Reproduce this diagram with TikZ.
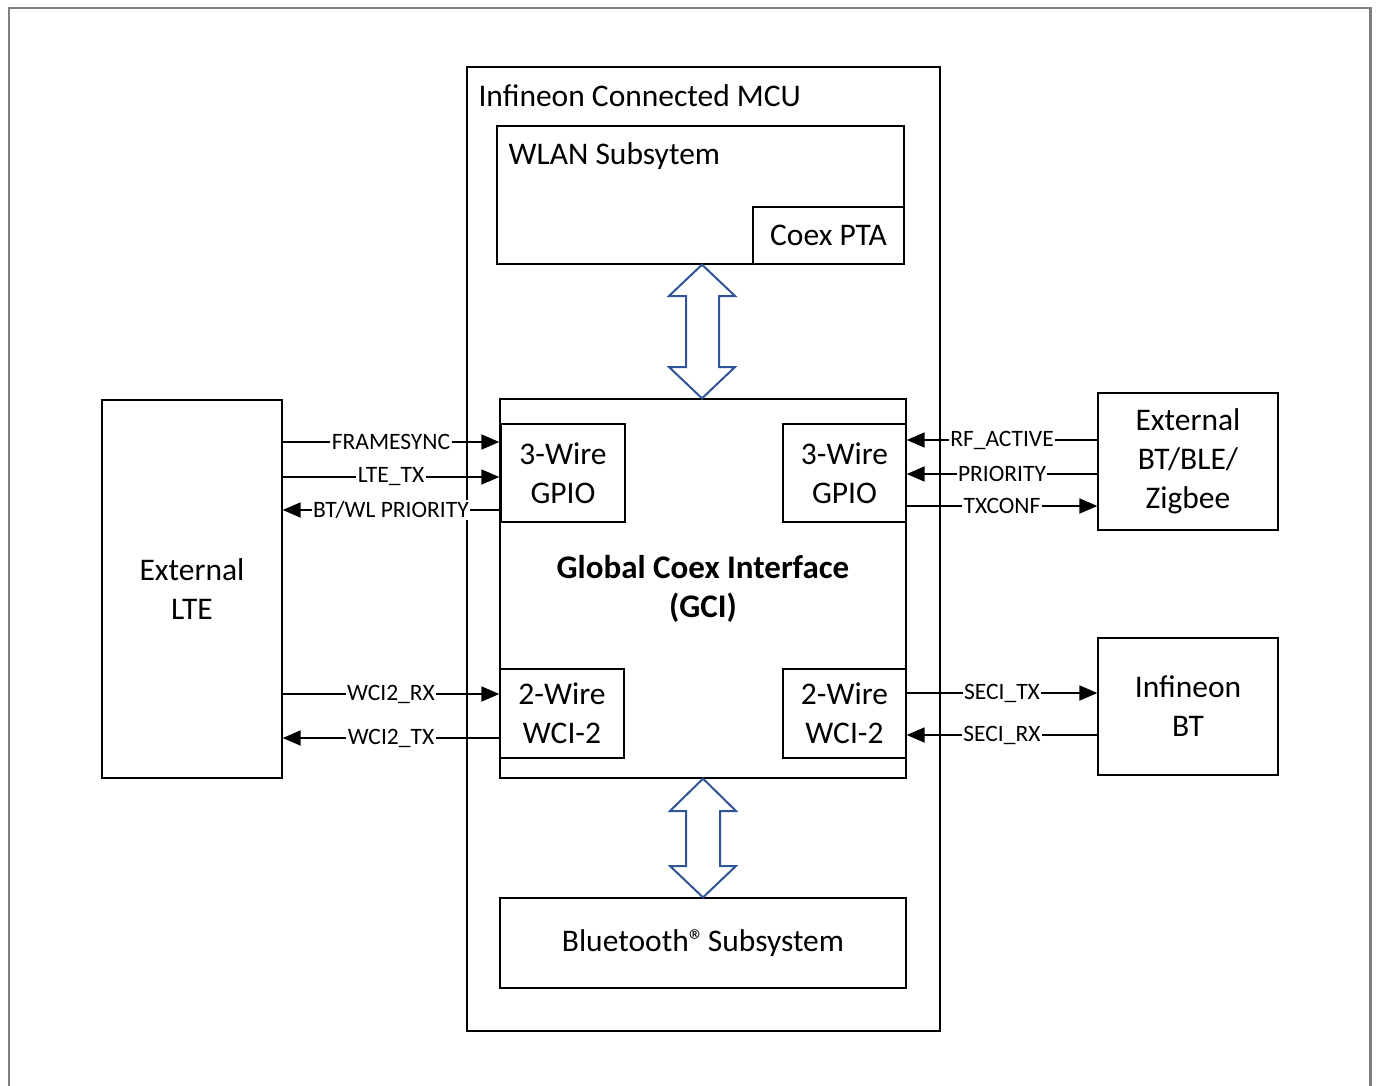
\documentclass[tikz,border=0pt]{standalone}
\usepackage{fontspec}
\setmainfont{Carlito}
\usetikzlibrary{arrows.meta}
\definecolor{arrowblue}{HTML}{2F5597}
\definecolor{framegray}{HTML}{7F7F7F}
\begin{document}
\begin{tikzpicture}[x=1pt,y=-1pt,
  box/.style={draw=black,line width=1.3pt,inner sep=0pt,align=center,font=\fontsize{31.5}{39}\selectfont},
  sig/.style={line width=1.8pt,-{Triangle[length=18pt,width=15pt]}},
  lbl/.style={fill=white,inner sep=1.5pt,font=\fontsize{23.5}{26}\selectfont},
  bigarrow/.style={draw=arrowblue,line width=2pt,line join=miter}]
\useasboundingbox (0,0) rectangle (1378,1086);
\draw [framegray,line width=2.5pt] (9,1086) -- (9,8) -- (1370.5,8) -- (1370.5,1086);
\node [box,minimum width=473pt,minimum height=964pt] (mcu) at (703.5,549) {};
\node [anchor=west,font=\fontsize{31.5}{36}\selectfont] (mcutitle) at (475,96) {Infineon Connected MCU};
\node [box,minimum width=407pt,minimum height=138pt] (wlan) at (700.5,195) {};
\node [anchor=west,font=\fontsize{31.5}{36}\selectfont] (wlantitle) at (505,156) {WLAN Subsytem};
\node [box,minimum width=151pt,minimum height=57pt] (pta) at (828.5,235.5) {Coex PTA};
\node [box,minimum width=406pt,minimum height=379pt] (gci) at (703,588.5) {};
\node [align=center,font=\bfseries\fontsize{33}{39}\selectfont] (gcitext) at (703,589) {Global Coex Interface\\(GCI)};
\node [box,minimum width=124pt,minimum height=98pt] (gpiol) at (563,473) {3-Wire\\GPIO};
\node [box,minimum width=123pt,minimum height=98pt] (gpior) at (844.5,473) {3-Wire\\GPIO};
\node [box,minimum width=124pt,minimum height=89pt] (wcil) at (562,713.5) {2-Wire\\WCI-2};
\node [box,minimum width=123pt,minimum height=89pt] (wcir) at (844.5,713.5) {2-Wire\\WCI-2};
\node [box,minimum width=406pt,minimum height=90pt] (btsub) at (703,943) {Bluetooth®\kern-4pt{} Subsystem};
\node [box,minimum width=180pt,minimum height=378pt] (lte) at (192,589) {External\\LTE};
\node [box,minimum width=180pt,minimum height=137pt] (extbt) at (1188,461.5) {External\\BT/BLE/\\Zigbee};
\node [box,minimum width=180pt,minimum height=137pt] (ifxbt) at (1188,706.5) {Infineon\\BT};
\draw [sig] (lte.east|-0,442) -- node [lbl] {FRAMESYNC} (gci.west|-0,442);
\draw [sig] (lte.east|-0,477) -- node [lbl] {LTE\_TX} (gci.west|-0,477);
\draw [sig] (gci.west|-0,510) -- node [lbl] {BT/WL PRIORITY} (lte.east|-0,510);
\draw [sig] (lte.east|-0,694) -- node [lbl] {WCI2\_RX} (gci.west|-0,694);
\draw [sig] (gci.west|-0,738) -- node [lbl] {WCI2\_TX} (lte.east|-0,738);
\draw [sig] (extbt.west|-0,440) -- node [lbl] {RF\_ACTIVE} (gci.east|-0,440);
\draw [sig] (extbt.west|-0,474) -- node [lbl] {PRIORITY} (gci.east|-0,474);
\draw [sig] (gci.east|-0,506) -- node [lbl] {TXCONF} (extbt.west|-0,506);
\draw [sig] (gci.east|-0,693) -- node [lbl] {SECI\_TX} (ifxbt.west|-0,693);
\draw [sig] (ifxbt.west|-0,735) -- node [lbl] {SECI\_RX} (gci.east|-0,735);
\draw [bigarrow] (wlan.south-|702,0) -- (735,296) -- (719,296) -- (719,367) -- (735,367) -- (gci.north-|702,0) -- (669,367) -- (686,367) -- (686,296) -- (669,296) -- cycle;
\draw [bigarrow] (gci.south-|703,0) -- (736,811) -- (720,811) -- (720,866) -- (736,866) -- (btsub.north-|703,0) -- (670,866) -- (686,866) -- (686,811) -- (670,811) -- cycle;
\end{tikzpicture}
\end{document}
